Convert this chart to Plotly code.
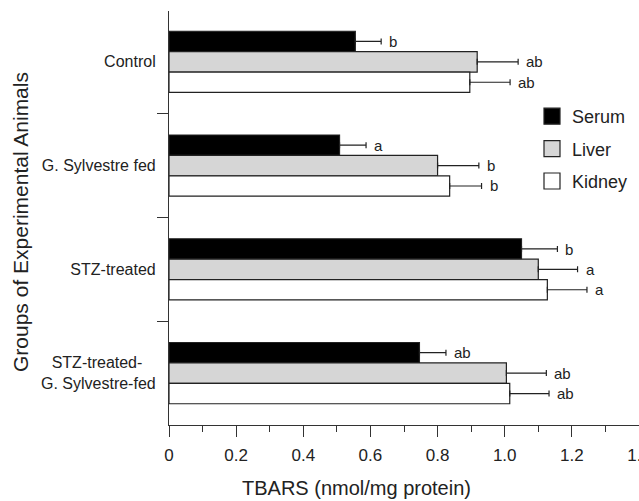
import plotly.graph_objects as go

groups = ["Control", "G. Sylvestre fed", "STZ-treated", "STZ-treated-\u00a0\u00a0\u00a0<br>G. Sylvestre-fed"]
series = ["Serum", "Liver", "Kidney"]
serum = [0.555, 0.508, 1.050, 0.746]
liver = [0.918, 0.800, 1.100, 1.005]
kidney = [0.896, 0.836, 1.127, 1.015]
serum_err = [0.077, 0.079, 0.107, 0.079]
liver_err = [0.122, 0.123, 0.117, 0.119]
kidney_err = [0.120, 0.095, 0.118, 0.117]
serum_lbl = ["b", "a", "b", "ab"]
liver_lbl = ["ab", "b", "a", "ab"]
kidney_lbl = ["ab", "b", "a", "ab"]
x_ticks = [0, 0.2, 0.4, 0.6, 0.8, 1.0, 1.2, 1.4]
x_ticktext = ["0", "0.2", "0.4", "0.6", "0.8", "1.0", "1.2", "1.4"]

values = [serum, liver, kidney]
errors = [serum_err, liver_err, kidney_err]
labels = [serum_lbl, liver_lbl, kidney_lbl]
fills = ["#000000", "#d6d6d6", "#ffffff"]

W, H = 639, 501
ML, MR, MT, MB = 169, 0, 11, 76
plot_w = W - ML - MR
plot_h = H - MT - MB
bargap = 0.41
band_px = plot_h / len(groups)
bar_px = band_px * (1 - bargap) / len(series)

font_family = "Liberation Sans, Arial, sans-serif"

fig = go.Figure()
for i, name in enumerate(series):
    fig.add_trace(go.Bar(
        y=groups, x=values[i], orientation="h", name=name,
        marker=dict(color=fills[i], line=dict(color="#222222", width=1.2)),
        error_x=dict(type="data", array=errors[i], arrayminus=[0] * len(groups),
                     symmetric=False, color="#222222", thickness=1.2, width=3),
        showlegend=False,
    ))
    # legend proxy
    fig.add_trace(go.Scatter(
        x=[None], y=[None], mode="markers", name=name, legendgroup=name,
        marker=dict(symbol="square", size=18, color=fills[i],
                    line=dict(color="#222222", width=1.2)),
        showlegend=True,
    ))

annotations = []
for i in range(len(series)):
    yshift = (1 - i) * bar_px
    for j, g in enumerate(groups):
        annotations.append(dict(
            x=values[i][j] + errors[i][j], y=g, xref="x", yref="y",
            text=labels[i][j], showarrow=False, xanchor="left", yanchor="middle",
            xshift=6, yshift=yshift,
            font=dict(family=font_family, size=15, color="#222222"),
        ))

annotations.append(dict(
    text="Groups of Experimental Animals", xref="paper", yref="paper",
    x=(20 - ML) / plot_w, y=(H - MB - 222) / plot_h, textangle=-90,
    showarrow=False, xanchor="center", yanchor="middle",
    font=dict(family=font_family, size=21, color="#222222"),
))
annotations.append(dict(
    text="TBARS (nmol/mg protein)", xref="paper", yref="paper",
    x=(356 - ML) / plot_w, y=(H - MB - 488) / plot_h,
    showarrow=False, xanchor="center", yanchor="middle",
    font=dict(family=font_family, size=20, color="#222222"),
))

fig.update_layout(
    width=W, height=H,
    margin=dict(l=ML, r=MR, t=MT, b=MB, pad=0, autoexpand=False),
    paper_bgcolor="white", plot_bgcolor="white",
    barmode="group", bargap=bargap, bargroupgap=0,
    font=dict(family=font_family, size=16, color="#222222"),
    annotations=annotations,
    legend=dict(
        x=(532 - ML) / plot_w, y=(H - MB - 98) / plot_h,
        xanchor="left", yanchor="top",
        font=dict(family=font_family, size=18, color="#222222"),
        tracegroupgap=6, itemsizing="trace", bgcolor="rgba(0,0,0,0)",
    ),
    xaxis=dict(
        range=[0, 1.4], tickvals=x_ticks, ticktext=x_ticktext,
        automargin=False,
        showgrid=False, zeroline=False, showline=True, linecolor="#333333", linewidth=1.2,
        ticks="outside", ticklen=11, tickwidth=1.2, tickcolor="#333333",
        minor=dict(dtick=0.1, ticks="outside", ticklen=6, tickwidth=1.2, tickcolor="#333333"),
        tickfont=dict(family=font_family, size=17, color="#222222"),
        ticklabeloverflow="allow", ticklabelstandoff=3,
        fixedrange=True,
    ),
    yaxis=dict(
        categoryorder="array", categoryarray=groups,
        range=[3.5, -0.49], automargin=False,
        showgrid=False, zeroline=False, showline=True, linecolor="#333333", linewidth=1.2,
        ticks="outside", tickson="boundaries", ticklen=11, tickwidth=1.2, tickcolor="#333333",
        tickfont=dict(family=font_family, size=16, color="#222222"),
        ticklabelstandoff=9,
        fixedrange=True,
    ),
)

fig.write_html("out.html")
